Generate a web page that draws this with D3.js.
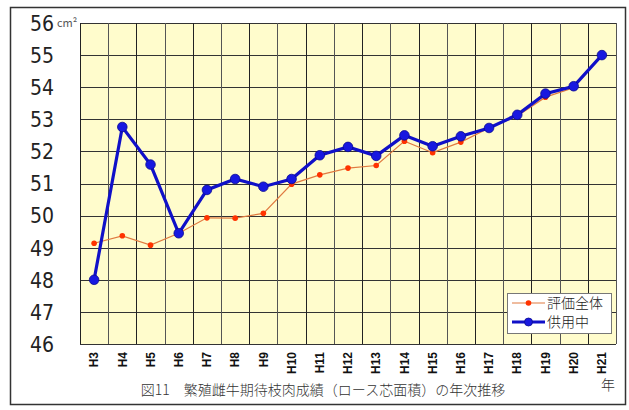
<!DOCTYPE html>
<html><head><meta charset="utf-8">
<script src="https://cdn.jsdelivr.net/npm/d3@7"></script>
<style>body{margin:0;background:#fff}svg{display:block}</style>
</head><body>
<script>
const categories = ["H3","H4","H5","H6","H7","H8","H9","H10","H11","H12","H13","H14","H15","H16","H17","H18","H19","H20","H21"];
const allEval = [49.14,49.37,49.08,49.45,49.93,49.92,50.07,50.98,51.27,51.48,51.56,52.32,51.96,52.29,52.73,53.10,53.69,53.98,55.0];
const inUse = [48.0,52.76,51.59,49.45,50.8,51.14,50.9,51.14,51.88,52.14,51.86,52.5,52.16,52.47,52.73,53.14,53.8,54.03,55.0];
const yTicks = [46,47,48,49,50,51,52,53,54,55,56];
const seriesNames = ["評価全体","供用中"];
const titleText = "図11　繁殖雌牛期待枝肉成績（ロース芯面積）の年次推移";

const W=629,H=410;
const svg=d3.select("body").append("svg").attr("width",W).attr("height",H);
svg.append("rect").attr("x",10.5).attr("y",7.5).attr("width",615).attr("height",397)
  .attr("fill","#fff").attr("stroke","#333").attr("stroke-width",1.5);

const L=80,R=616,T=23,B=344;
const x=d3.scaleBand().domain(categories).range([L,R]);
const y=d3.scaleLinear().domain([46,56]).range([B,T]);

svg.append("rect").attr("x",L).attr("y",T).attr("width",R-L).attr("height",B-T).attr("fill","#fffccc");

// grid
const g=svg.append("g");
g.selectAll(".hg").data(yTicks).join("line")
  .attr("x1",L).attr("x2",R).attr("y1",d=>Math.round(y(d))+0.5).attr("y2",d=>Math.round(y(d))+0.5)
  .attr("stroke","#333").attr("stroke-width",1);
g.selectAll(".vg").data(categories.concat(["__end"])).join("line")
  .attr("x1",(d,i)=>Math.round(i<categories.length?x(d):R)+0.5)
  .attr("x2",(d,i)=>Math.round(i<categories.length?x(d):R)+0.5)
  .attr("y1",T).attr("y2",B)
  .attr("stroke",(d,i)=>i%2? "#555":"#222").attr("stroke-width",1);

// y axis labels
const yAxis=d3.axisLeft(y).tickValues(yTicks).tickSize(0).tickPadding(0).tickFormat(d3.format("d"));
const ya=svg.append("g").attr("transform",`translate(54,0)`).call(yAxis);
ya.select(".domain").remove();
ya.selectAll("text").attr("font-family","'Liberation Sans Narrow','Arial Narrow','DejaVu Sans Condensed',sans-serif")
  .attr("font-size",21).attr("fill","#222").attr("dy","0.35em");
svg.append("text").attr("x",57).attr("y",27).attr("font-family","'Noto Sans CJK JP',sans-serif")
  .attr("font-size",11).attr("fill","#555").text("cm²");

// x axis labels
const xAxis=d3.axisBottom(x).tickSize(0).tickPadding(0);
const xa=svg.append("g").attr("transform",`translate(0,${B})`).call(xAxis);
xa.select(".domain").remove();
xa.selectAll("text").attr("transform","rotate(-90)").attr("text-anchor","end")
  .attr("x",-8).attr("y",0).attr("dy","0.35em")
  .attr("font-family","'Liberation Sans',Arial,sans-serif").attr("font-weight","bold")
  .attr("font-size",12).attr("fill","#111");

svg.append("text").attr("x",608).attr("y",390).attr("text-anchor","middle")
  .attr("font-family","'Noto Sans CJK JP',sans-serif").attr("font-weight",300).attr("font-size",14).attr("fill","#333").text("年");
svg.append("text").attr("x",323).attr("y",395).attr("text-anchor","middle")
  .attr("font-family","'Noto Sans CJK JP',sans-serif").attr("font-weight",300).attr("font-size",14).attr("fill","#333").text(titleText);

const cx=d=>x(d)+x.bandwidth()/2;
const line=d3.line().x((d,i)=>cx(categories[i])).y(d=>y(d));

// orange series
svg.append("path").datum(allEval).attr("d",line).attr("fill","none").attr("stroke","#e07a40").attr("stroke-width",1.2);
svg.selectAll(".od").data(allEval).join("circle").attr("cx",(d,i)=>cx(categories[i])).attr("cy",d=>y(d))
  .attr("r",2.8).attr("fill","#ff3300");
// blue series
svg.append("path").datum(inUse).attr("d",line).attr("fill","none").attr("stroke","#1010c8").attr("stroke-width",3.2);
svg.selectAll(".bd").data(inUse).join("circle").attr("cx",(d,i)=>cx(categories[i])).attr("cy",d=>y(d))
  .attr("r",4.8).attr("fill","#1818e0").attr("stroke","#0a0a90").attr("stroke-width",0.8);

// legend
const lg=svg.append("g");
lg.append("rect").attr("x",507.5).attr("y",293.5).attr("width",104).attr("height",40).attr("fill","#fff").attr("stroke","#777");
lg.append("line").attr("x1",512).attr("x2",545).attr("y1",303).attr("y2",303).attr("stroke","#e07a40").attr("stroke-width",1.2);
lg.append("circle").attr("cx",528.5).attr("cy",303).attr("r",2.8).attr("fill","#ff3300");
lg.append("line").attr("x1",512).attr("x2",545).attr("y1",322).attr("y2",322).attr("stroke","#1010c8").attr("stroke-width",3.2);
lg.append("circle").attr("cx",528.5).attr("cy",322).attr("r",4).attr("fill","#1818e0").attr("stroke","#0a0a90").attr("stroke-width",0.8);
lg.selectAll(".lt").data(seriesNames).join("text").attr("x",547).attr("y",(d,i)=>303+i*19).attr("dy","0.36em")
  .attr("font-family","'Noto Sans CJK JP',sans-serif").attr("font-weight",300).attr("font-size",14).attr("fill","#222").text(d=>d);
</script>
</body></html>
